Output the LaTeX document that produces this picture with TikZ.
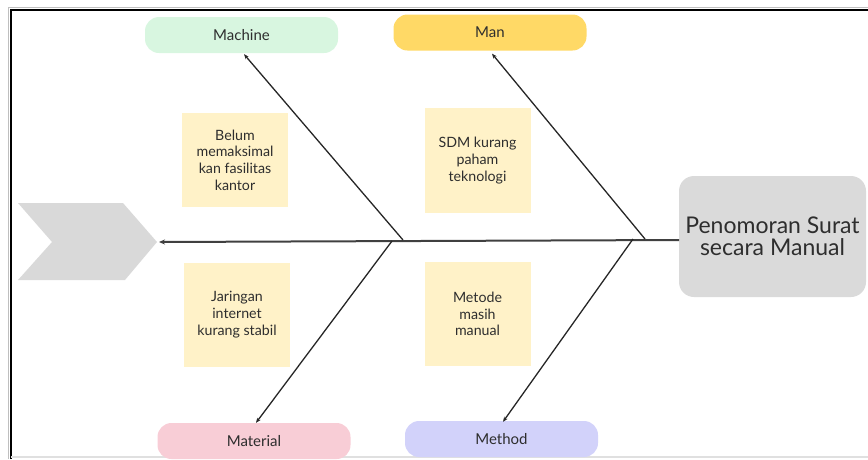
\documentclass[tikz,border=0pt]{standalone}
\usepackage{fontspec}
\setmainfont{Lato}
\usetikzlibrary{arrows.meta,calc}
\definecolor{cMachine}{HTML}{D8F6E0}
\definecolor{cMan}{HTML}{FFD966}
\definecolor{cMaterial}{HTML}{F8CDD6}
\definecolor{cMethod}{HTML}{D2D2FA}
\definecolor{cNote}{HTML}{FFF2C8}
\definecolor{cHead}{HTML}{DADADA}
\definecolor{cChev}{HTML}{D9D9D9}
\definecolor{cText}{HTML}{2E2E2E}
\begin{document}
\begin{tikzpicture}[x=1pt,y=-1pt,
  cat/.style={rectangle, rounded corners=14pt, minimum width=193pt, minimum height=36pt, inner sep=0pt, text=cText, font=\fontsize{15}{17}\selectfont},
  note/.style={rectangle, fill=cNote, minimum width=106pt, minimum height=104pt, inner sep=2pt, align=center, text=cText, font=\fontsize{14.2}{16.7}\selectfont},
  headbox/.style={rectangle, rounded corners=15pt, fill=cHead, minimum width=187pt, minimum height=121pt, align=center, text=cText, font=\fontsize{23}{21.5}\selectfont},
  bone/.style={draw=black!85, line width=1.3pt, -{Stealth[length=5pt,width=4pt]}},
  spine/.style={draw=black!75, line width=2pt, -{Stealth[length=6pt,width=5pt]}}]
\useasboundingbox (0,0) rectangle (868,459);
% frame
\draw[black!25, line width=1pt] (8,459) -- (8,7) -- (868,7);
\draw[black, line width=2.2pt] (11,459) -- (11,10) -- (868,10);
\draw[black!12, line width=1.5pt] (11,457) -- (868,457);
% chevron
\fill[cChev] (18,203) -- (123,203) -- (157,242) -- (125,280) -- (18,280) -- (52,242) -- cycle;
\coordinate (tip) at (159,242);
% head
\node[headbox] (head) at (772.5,236.5) {Penomoran Surat\\secara Manual};
\coordinate (s0) at (679,240);
% categories
\node[cat, fill=cMachine] (machine) at (241.5,35) {Machine};
\node[cat, fill=cMan] (man) at (490,32.5) {Man};
\node[cat, fill=cMaterial] (material) at (254,441) {Material};
\node[cat, fill=cMethod] (method) at (501.5,439) {Method};
% notes
\node[note, minimum height=94pt] (n1) at (235,160) {Belum\\memaksimal\\kan fasilitas\\kantor};
\node[note, minimum height=105pt] (n2) at (477.5,160.5) {SDM kurang\\paham\\teknologi};
\node[note] (n3) at (237,314.5) {Jaringan\\internet\\kurang stabil};
\node[note] (n4) at (477.5,314) {Metode\\masih\\manual};
% spine
\draw[spine] (s0) -- (tip);
% junctions
\coordinate (j1) at (403,240);
\coordinate (j2) at (392,241);
\coordinate (j3) at (645,239);
\coordinate (j4) at (633,239);
\draw[bone] (j1) -- ($(machine.south)+(2.5,1)$);
\draw[bone] (j3) -- ($(man.south)+(2,3)$);
\draw[bone] (j2) -- ($(material.north)+(2,0)$);
\draw[bone] (j4) -- ($(method.north)+(1.5,1)$);
\end{tikzpicture}
\end{document}
